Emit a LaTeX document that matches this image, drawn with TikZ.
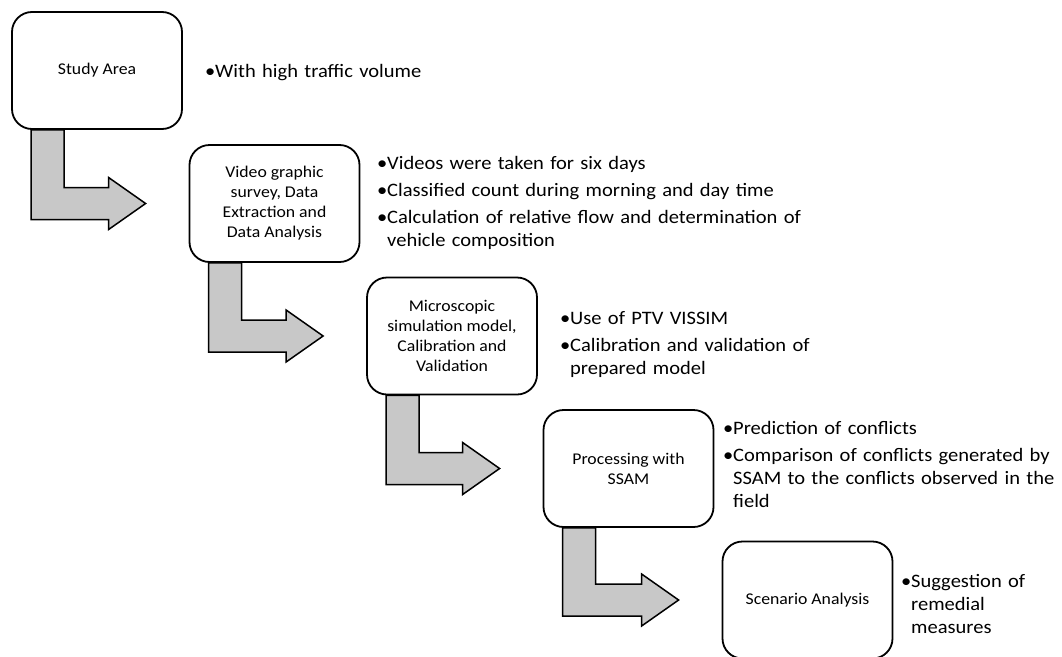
\documentclass[tikz,border=0pt]{standalone}
\usepackage{fontspec}
\setmainfont{Carlito}[FakeStretch=1.08]
\usetikzlibrary{calc,backgrounds}
\definecolor{arrowgray}{HTML}{C8C8C8}

% one bullet point with hanging indent
\newcommand{\bpt}[1]{\ifvmode\noindent\fi\hangindent=10pt\hangafter=1\makebox[10pt][l]{\textbullet}#1\par}

\begin{document}
\begin{tikzpicture}[
  x=1pt, y=-1pt,
  stagebox/.style={draw, line width=1.8pt, rounded corners=20pt, fill=white,
               minimum width=170pt, minimum height=117pt, align=center,
               inner sep=2pt, font=\fontsize{16.4}{20}\selectfont},
  notes/.style={anchor=base west, align=left, text width=480pt, inner sep=0pt,
               font=\fontsize{19}{23}\selectfont,
               execute at begin node={\setlength{\parskip}{4pt}}},
  bent/.style={fill=arrowgray, draw=black, line width=1.5pt, line join=miter}
]
  \useasboundingbox (0,0) rectangle (1062,656);

  % Stages
  \node[stagebox] (area) at (97,70.5) {Study Area};
  \node[stagebox] (video) at (274.5,203.5) {Video graphic\\survey, Data\\Extraction and\\Data Analysis};
  \node[stagebox] (micro) at (452,336) {Microscopic\\simulation model,\\Calibration and\\Validation};
  \node[stagebox] (ssam) at (628.5,468.5) {Processing with\\SSAM};
  \node[stagebox] (scen) at (807.5,600) {Scenario Analysis};

  % Notes beside each stage
  \node[notes] (areanote) at (205,77) {\bpt{With high traffic volume}};
  \node[notes] (videonote) at (377,169) {%
    \bpt{Videos were taken for six days}
    \bpt{Classified count during morning and day time}
    \bpt{Calculation of relative flow and determination of\newline vehicle composition}%
  };
  \node[notes] (micronote) at (560,324) {%
    \bpt{Use of PTV VISSIM}
    \bpt{Calibration and validation of\newline prepared model}%
  };
  \node[notes] (ssamnote) at (723,434) {%
    \bpt{Prediction of conflicts}
    \bpt{Comparison of conflicts generated by\newline SSAM to the conflicts observed in the\newline field}%
  };
  \node[notes] (scennote) at (901,587) {\bpt{Suggestion of\newline remedial\newline measures}};

  % Bent arrows between stages
  \begin{scope}[on background layer]
    \foreach \a/\b in {area/video, video/micro, micro/ssam, ssam/scen}
      \draw[bent] let \p1=(\a.south west), \p2=(\b.west) in
        (\x1+20pt,\y1) -- (\x1+53pt,\y1) -- (\x1+53pt,\y2+16pt)
        -- (\x2-80pt,\y2+16pt) -- (\x2-80pt,\y2+26pt) -- (\x2-43pt,\y2)
        -- (\x2-80pt,\y2-26pt) -- (\x2-80pt,\y2-16pt) -- (\x1+20pt,\y2-16pt) -- cycle;
  \end{scope}
\end{tikzpicture}
\end{document}
